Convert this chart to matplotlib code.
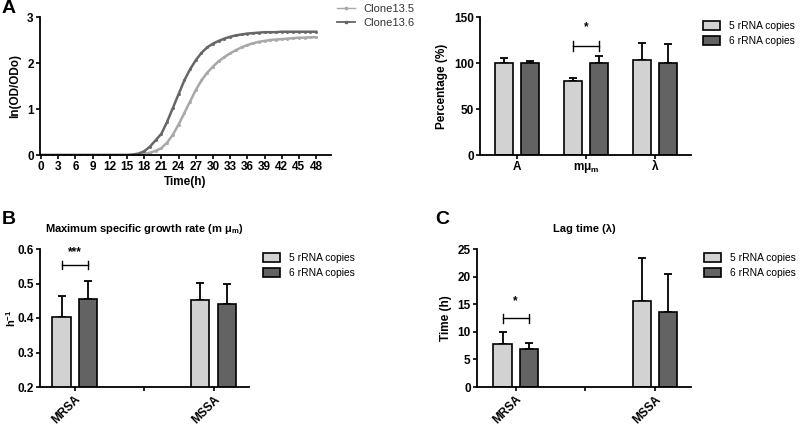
import numpy as np
import matplotlib
matplotlib.use('Agg')
import matplotlib.pyplot as plt
from matplotlib.patches import Patch
from matplotlib.lines import Line2D

plt.rcParams['font.family'] = ['Liberation Sans', 'DejaVu Sans']
plt.rcParams['mathtext.fontset'] = 'custom'
plt.rcParams['mathtext.rm'] = 'Liberation Sans:bold'
plt.rcParams['mathtext.it'] = 'Liberation Sans:bold'
plt.rcParams['mathtext.bf'] = 'Liberation Sans:bold'

# growth curves, ln(OD/OD0) read every hour
hours = list(range(0, 49))
clone135 = [0]*17 + [0.01, 0.02, 0.05, 0.09, 0.15, 0.27, 0.44, 0.66, 0.91, 1.16,
                     1.41, 1.62, 1.79, 1.92, 2.04, 2.13, 2.21, 2.28, 2.34, 2.39,
                     2.43, 2.46, 2.48, 2.50, 2.51, 2.52, 2.53, 2.54, 2.55, 2.55,
                     2.56, 2.56]
clone136 = [0]*16 + [0.01, 0.03, 0.08, 0.18, 0.32, 0.46, 0.72, 1.02, 1.32, 1.62,
                     1.86, 2.06, 2.22, 2.34, 2.42, 2.48, 2.53, 2.57, 2.60, 2.62,
                     2.64, 2.65, 2.66, 2.67, 2.67, 2.67, 2.68, 2.68, 2.68, 2.68,
                     2.68, 2.68, 2.68]

# percentage panel
pct_labels = ['A', 'mμ$_\\mathrm{m}$', 'λ']
pct_5 = [100, 80.5, 103]
pct_5_err = [5, 3.5, 19]
pct_6 = [100.5, 100, 100]
pct_6_err = [2, 8, 20.5]

# MRSA / MSSA panels
strain_labels = ['MRSA', '', 'MSSA']
mu_5 = [0.403, np.nan, 0.451]
mu_5_err = [0.060, 0, 0.051]
mu_6 = [0.454, np.nan, 0.442]
mu_6_err = [0.053, 0, 0.058]
lag_5 = [7.7, np.nan, 15.6]
lag_5_err = [2.3, 0, 7.8]
lag_6 = [6.9, np.nan, 13.5]
lag_6_err = [1.0, 0, 7.0]

series_names = ['5 rRNA copies', '6 rRNA copies']
light = '#d2d2d2'
dark = '#636363'

W, H = 800, 426
fig = plt.figure(figsize=(W/100, H/100), dpi=100)


def add_ax(left, right, top, bottom):
    return fig.add_axes([left/W, 1 - bottom/H, (right-left)/W, (bottom-top)/H])


def style(ax):
    for s in ['top', 'right']:
        ax.spines[s].set_visible(False)
    for s in ['left', 'bottom']:
        ax.spines[s].set_linewidth(1.3)
    ax.tick_params(width=1.2, length=3, labelsize=8.5, pad=1.5)
    for t in ax.get_xticklabels() + ax.get_yticklabels():
        t.set_fontweight('bold')


def bars(ax, v5, e5, v6, e6):
    x = np.arange(len(v5))
    w, off = 0.26, 0.19
    for xs, v, e, c in [(x - off, v5, e5, light), (x + off, v6, e6, dark)]:
        ax.bar(xs, v, w, color=c, edgecolor='black', linewidth=1.2, zorder=2)
        ax.errorbar(xs, v, yerr=[np.zeros(len(v)), e], fmt='none', ecolor='black',
                    elinewidth=1.3, capsize=3.2, capthick=1.3, zorder=1)
    return x


def bracket(ax, x0, x1, y, ytxt, txt, dy):
    ax.plot([x0, x1], [y, y], color='black', lw=1)
    ax.plot([x0, x0], [y - dy, y + dy], color='black', lw=1)
    ax.plot([x1, x1], [y - dy, y + dy], color='black', lw=1)
    ax.text((x0 + x1)/2, ytxt, txt, ha='center', va='center', fontsize=8.5, fontweight='bold')


def bar_legend(x, y):
    handles = [Patch(facecolor=light, edgecolor='black', linewidth=1.2),
               Patch(facecolor=dark, edgecolor='black', linewidth=1.2)]
    fig.legend(handles, series_names, loc='upper left', bbox_to_anchor=(x/W, 1 - y/H),
               frameon=False, fontsize=7.4, handlelength=1.7, handleheight=0.95,
               labelspacing=0.45, handletextpad=0.8, borderpad=0, borderaxespad=0)


# A: growth curves
ax1 = add_ax(40, 331, 17, 155)
ax1.plot(hours, clone135, color='#a8a8a8', lw=1.8, marker='s', ms=1.0, label='Clone13.5')
ax1.plot(hours, clone136, color='#666666', lw=1.8, marker='s', ms=1.0, label='Clone13.6')
ax1.set_xlim(-0.17, 50.6)
ax1.set_ylim(0, 3)
ax1.set_xticks(range(0, 49, 3))
ax1.set_yticks([0, 1, 2, 3])
ax1.set_xlabel('Time(h)', fontsize=8.5, fontweight='bold', labelpad=2)
ax1.set_ylabel('ln(OD/ODo)', fontsize=8.5, fontweight='bold', labelpad=4)
style(ax1)
fig.legend(handles=[Line2D([], [], color='#a8a8a8', lw=1, marker='s', ms=1.5),
                    Line2D([], [], color='#666666', lw=1.3, marker='s', ms=1.5)],
           labels=['Clone13.5', 'Clone13.6'], loc='upper left',
           bbox_to_anchor=(337/W, 1 - 4/H), frameon=False, fontsize=8,
           handlelength=1.6, labelspacing=0.35, handletextpad=0.8, borderpad=0,
           borderaxespad=0, labelcolor='#333333')

# A: percentage
ax2 = add_ax(480, 691, 17, 155)
x = bars(ax2, pct_5, pct_5_err, pct_6, pct_6_err)
ax2.set_xticks(x)
ax2.set_xticklabels(pct_labels)
ax2.set_xlim(-0.53, 2.52)
ax2.set_ylim(0, 150)
ax2.set_yticks([0, 50, 100, 150])
ax2.set_ylabel('Percentage (%)', fontsize=8.5, fontweight='bold', labelpad=4)
style(ax2)
bracket(ax2, 1 - 0.19, 1 + 0.19, 118.5, 139, '*', 5)
bar_legend(703, 21)

# B: max specific growth rate
ax3 = add_ax(40, 249, 249, 387)
x = bars(ax3, mu_5, mu_5_err, mu_6, mu_6_err)
ax3.set_xticks(x)
ax3.set_xticklabels(strain_labels, rotation=45, ha='right', rotation_mode='anchor')
ax3.set_xlim(-0.5, 2.51)
ax3.set_ylim(0.2, 0.6)
ax3.set_yticks([0.2, 0.3, 0.4, 0.5, 0.6])
ax3.set_ylabel('h$^{-1}$', fontsize=8, fontweight='bold')
ax3.yaxis.set_label_coords(-0.105, 0.5)
ax3.set_title('Maximum specific growth rate (m μ$_\\mathrm{m}$)', fontsize=8,
              fontweight='bold', pad=12)
style(ax3)
bracket(ax3, -0.19, 0.19, 0.554, 0.592, '***', 0.012)
bar_legend(263, 253)

# C: lag time
ax4 = add_ax(477, 691, 249, 387)
x = bars(ax4, lag_5, lag_5_err, lag_6, lag_6_err)
ax4.set_xticks(x)
ax4.set_xticklabels(strain_labels, rotation=45, ha='right', rotation_mode='anchor')
ax4.set_xlim(-0.557, 2.52)
ax4.set_ylim(0, 25)
ax4.set_yticks([0, 5, 10, 15, 20, 25])
ax4.set_ylabel('Time (h)', fontsize=8.5, fontweight='bold', labelpad=4)
ax4.set_title('Lag time (λ)', fontsize=8, fontweight='bold', pad=12)
style(ax4)
bracket(ax4, -0.19, 0.19, 12.45, 15.5, '*', 0.8)
bar_legend(704, 253)

for lbl, px, py in [('A', 2, 0), ('B', 2, 211), ('C', 435, 211)]:
    fig.text(px/W, 1 - py/H, lbl, fontsize=14, fontweight='bold', ha='left', va='top')

fig.savefig('out.png', dpi=100)
